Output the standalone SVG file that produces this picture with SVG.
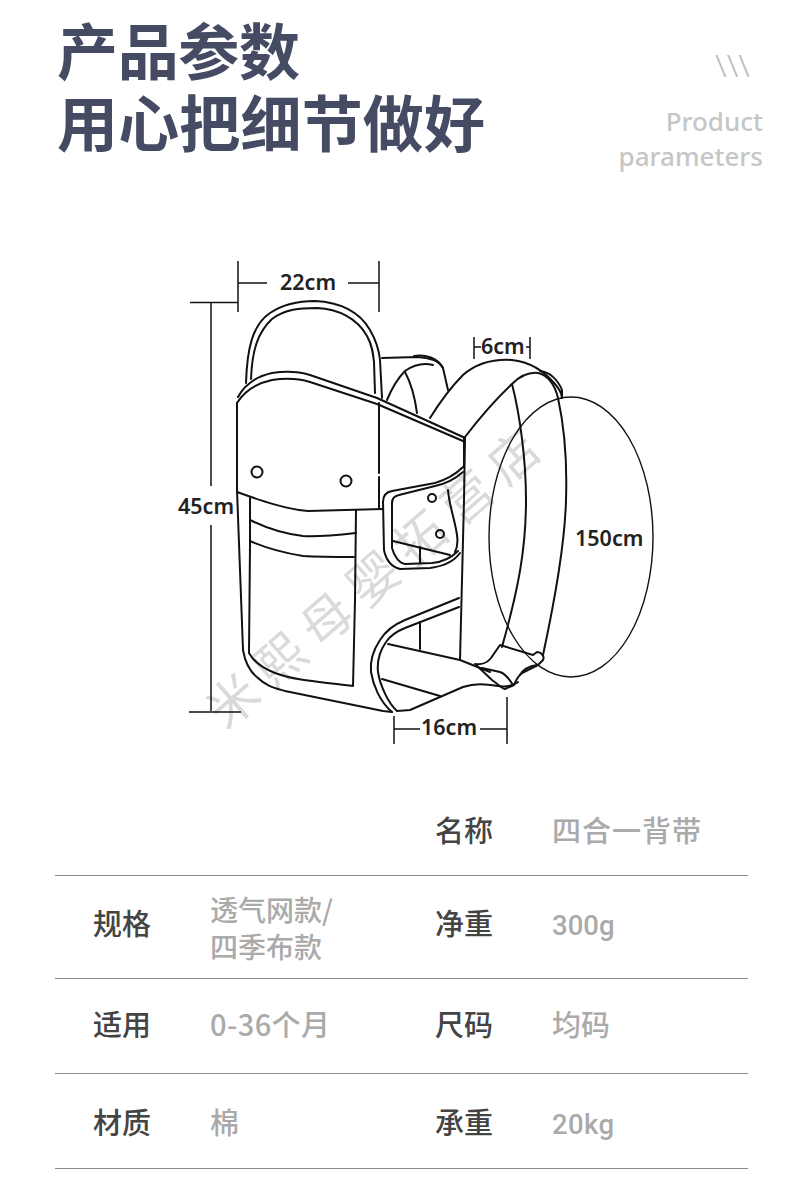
<svg xmlns="http://www.w3.org/2000/svg" width="790" height="1188" viewBox="0 0 790 1188">
<style>
text{font-family:"Noto Sans CJK SC","Noto Sans",sans-serif}
.h{font-size:61px;font-weight:700;fill:#454b63}
.en{font-size:26px;font-weight:500;fill:#c6c6c6;text-anchor:end;font-family:"Noto Sans",sans-serif}
.k{font-size:29px;font-weight:500;fill:#444}
.v{font-size:29px;font-weight:500;fill:#aaa}
.n{font-size:27.500px;font-family:Roboto,"Noto Sans CJK SC",sans-serif}
.d{font-size:21.500px;font-weight:600;fill:#222;font-family:"Noto Sans",sans-serif}
.l{fill:none;stroke:#111;stroke-width:2;stroke-linejoin:round;stroke-linecap:round}
.t{fill:none;stroke:#111;stroke-width:1.500}
.r{stroke:#8a8a8a;stroke-width:1}
.wm{font-size:50px;fill:#dadada;letter-spacing:12px}
</style>
<rect width="790" height="1188" fill="#fff"/>
<g id="header">
<text class="h" x="57" y="75" textLength="243">产品参数</text>
<text class="h" x="57" y="147" textLength="428">用心把细节做好</text>
<text x="715" y="77" font-size="31" fill="#bdbdbd" textLength="35" lengthAdjust="spacingAndGlyphs" style="font-family:'Noto Sans',sans-serif;font-weight:300">\\\</text>
<text class="en" x="763" y="131">Product</text>
<text class="en" x="763" y="166">parameters</text>
</g>
<g id="watermark">
<text class="wm" x="226" y="731" transform="rotate(-41 226 731)">米熙母婴拓营店</text>
</g>
<g id="carrier">
<path class="l" d="M246 383C247 350 252 325 270 313C285 303 300 301 315 301C340 302 360 312 370 330C377 342 379 350 380 360L382 398"/>
<path class="l" d="M251 379C252 350 258 332 272 319C285 309 300 308 317 308C338 309 357 318 367 336C372 345 373 352 374 362L375 393"/>
<path class="l" d="M238 397C245 384 258 376 272 373C285 371 297 371 310 375L377 398L463 437"/>
<path class="l" d="M237 403C245 390 258 383 272 380C285 378 297 378 310 382L377 404L463 441"/>
<path class="l" d="M237 403L237 490L243 650C245 662 250 672 258 678C266 686 275 688 285 691L383 711L392 712"/>
<path class="l" d="M237 492C262 501 285 509 308 511L383 509"/>
<path class="l" d="M250 498L250 545L249 653C254 662 262 668 275 673C290 679 310 681 353 686L355 600L356 510"/>
<path class="l" d="M250 520C268 529 285 534 303 536C320 537 338 535 356 533"/>
<path class="l" d="M250 541C268 549 285 553 303 556C320 557 338 557 354 557"/>
<path class="l" stroke-dasharray="70 4 40 6" d="M379 403L379 508"/>
<path class="l" d="M464 437L464 467"/>
<path class="l" d="M463 467C455 475 445 480 435 483L392 491C386 492 383 496 383 502L384 550C386 560 392 567 400 569L430 568C445 566 455 560 460 553"/>
<path class="l" d="M463 472C455 479 445 484 435 486L399 495C394 496 392 499 392 503L392 548C394 556 399 563 405 564L432 563C445 562 452 557 458 551"/>
<path class="l" d="M448 490C449 505 455 520 457 535C458 542 457 548 455 552"/>
<path class="l" d="M393 541L450 555"/>
<path class="l" d="M420 547L420 563"/>
<circle class="l" cx="257" cy="472" r="5.500"/>
<circle class="l" cx="346" cy="481" r="5.500"/>
<circle class="l" cx="432" cy="498" r="4"/>
<circle class="l" cx="440" cy="534" r="4"/>
<path class="l" d="M459 598L405 620C393 625 385 632 380 640C372 652 370 662 371 672C373 685 380 702 392 712"/>
<path class="l" d="M459 607L405 628C395 632 390 636 386 642C379 652 377 662 378 672C380 685 388 703 397 711L410 710L440 697L463 687C475 683 485 684 498 686C510 688 515 684 518 682"/>
<path class="l" d="M388 644L460 660L490 672"/>
<path class="l" d="M382 679L440 696"/>
<path class="l" d="M420 622L420 649"/>
<path class="l" d="M382 358L417 357C430 358 438 360 443 368L448 390"/>
<path class="l" d="M414 356C425 354 438 358 443 368"/>
<path class="l" d="M387 400C392 388 398 378 405 371C415 364 425 363 433 365"/>
<path class="l" d="M405 372C412 385 415 398 417 413"/>
<path class="l" d="M430 418C440 402 450 388 463 375C478 362 495 359 512 360C530 362 545 372 555 384C560 390 562 395 562 398"/>
<path class="l" d="M465 437C478 420 495 400 512 384C520 376 528 372 538 373C548 375 555 385 558 398C565 430 567 470 566 500C565 540 557 590 543 655"/>
<path class="l" d="M540 371C550 372 558 380 562 390L562 398"/>
<path class="l" d="M512 384C520 415 526 460 526 500C526 550 518 590 502 647"/>
<path class="l" d="M465 437L464 500L460 660"/>
<ellipse class="l" cx="571" cy="537" rx="82" ry="140" style="stroke-width:1.400"/>
<path class="l" d="M475 664C482 665 488 662 491 658L500 645L533 655L537 652C541 652 545 656 543 660L538 665L522 673C518 676 516 680 514 685L505 689C502 689 498 684 492 680L475 664"/>
<path class="l" d="M482 668L500 672C506 674 510 680 513 685"/>
<path class="l" d="M520 675C524 668 530 666 537 665"/>
</g>
<g id="dimensions">
<path class="t" d="M238 261V312M379 261V312M238 283H267M348 283H379"/>
<text class="d" x="280" y="290">22cm</text>
<path class="t" d="M190 302.500H238M211 302V486M211 525V711M189 712H241"/>
<text class="d" x="178" y="514">45cm</text>
<path class="t" d="M394 716V744M507 697V744M394 729H420M480 729H507"/>
<text class="d" x="421" y="735">16cm</text>
<path class="t" d="M474 337V359M530 337V359M474 347H481M526 347H530"/>
<text class="d" x="481" y="354">6cm</text>
<text class="d" x="575" y="546">150cm</text>
</g>
<g id="table">
<path class="r" d="M55 875.500H748M55 978.500H748M55 1073.500H748M55 1168.500H748"/>
<text class="k" x="435" y="842">名称</text>
<text class="v" x="552" y="842" textLength="149">四合一背带</text>
<text class="k" x="93" y="935">规格</text>
<text class="v" x="210" y="921" style="font-size:28px">透气网款/</text>
<text class="v" x="210" y="958" style="font-size:28px">四季布款</text>
<text class="k" x="435" y="935">净重</text>
<text class="v n" x="552" y="935">300g</text>
<text class="k" x="93" y="1036">适用</text>
<text class="v" x="210" y="1036" textLength="120">0-36个月</text>
<text class="k" x="435" y="1036">尺码</text>
<text class="v" x="552" y="1036">均码</text>
<text class="k" x="93" y="1134">材质</text>
<text class="v" x="210" y="1134">棉</text>
<text class="k" x="435" y="1134">承重</text>
<text class="v n" x="552" y="1134" textLength="62">20kg</text>
</g>
</svg>
